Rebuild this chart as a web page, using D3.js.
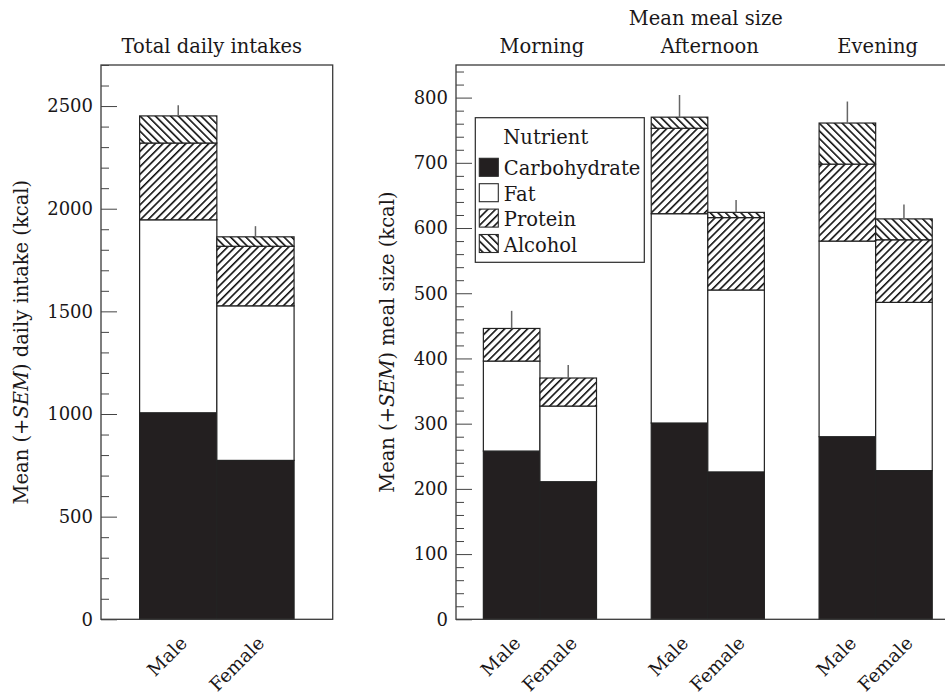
<!DOCTYPE html>
<html>
<head>
<meta charset="utf-8">
<script src="https://cdn.jsdelivr.net/npm/d3@7"></script>
<style>
  html, body { margin: 0; padding: 0; background: #fff; }
  svg { display: block; font-family: 'DejaVu Serif', serif; }
</style>
</head>
<body>
<script>
const sexes = ['Male', 'Female']
const meals = ['Morning', 'Afternoon', 'Evening']
const nutrients = ['Carbohydrate', 'Fat', 'Protein', 'Alcohol']

// total daily intake (kcal), Male / Female
const dailyCarb = [1006, 774]
const dailyFat = [940, 753]
const dailyProtein = [374, 290]
const dailyAlcohol = [132, 46]
const dailySem = [52, 52]

// mean meal size (kcal): Morning M/F, Afternoon M/F, Evening M/F
const mealCarb = [258, 211, 301, 226, 280, 228]
const mealFat = [138, 116, 321, 279, 300, 258]
const mealProtein = [50, 43, 131, 111, 118, 96]
const mealAlcohol = [0, 0, 17, 8, 63, 32]
const mealSem = [27, 20, 34, 19, 33, 22]

const dailyTicks = [0, 500, 1000, 1500, 2000, 2500]
const mealTicks = [0, 100, 200, 300, 400, 500, 600, 700, 800]

const width = 945
const height = 694
const ink = '#1a1718'
const plotTop = 65
const plotBottom = 619.3

const dailyRows = sexes.map((s, i) => ({
  sex: s, Carbohydrate: dailyCarb[i], Fat: dailyFat[i], Protein: dailyProtein[i], Alcohol: dailyAlcohol[i], sem: dailySem[i]
}))
const mealRows = []
meals.forEach((m, j) => sexes.forEach((s, k) => {
  const i = j * 2 + k
  mealRows.push({ meal: m, sex: s, Carbohydrate: mealCarb[i], Fat: mealFat[i], Protein: mealProtein[i], Alcohol: mealAlcohol[i], sem: mealSem[i] })
}))

const stack = d3.stack().keys(nutrients)

const svg = d3.select('body').append('svg').attr('width', width).attr('height', height)

// hatch patterns
const defs = svg.append('defs')
const hatch = (id, angle) => {
  defs.append('pattern')
    .attr('id', id)
    .attr('patternUnits', 'userSpaceOnUse')
    .attr('width', 5.4).attr('height', 5.4)
    .attr('patternTransform', `rotate(${angle})`)
    .call((p) => p.append('rect').attr('width', 5.4).attr('height', 5.4).attr('fill', '#fff'))
    .append('line')
    .attr('x1', 0.8).attr('y1', 0).attr('x2', 0.8).attr('y2', 5.4)
    .attr('stroke', '#000').attr('stroke-width', 1.5)
}
hatch('protein', 45)
hatch('alcohol', -45)

const fillOf = { Carbohydrate: '#231f20', Fat: '#fff', Protein: 'url(#protein)', Alcohol: 'url(#alcohol)' }

function yAxis(g, y, majors, minorStep, x0) {
  const [d0, d1] = y.domain()
  const minors = d3.range(d0, d1 + 0.001, minorStep).filter((v) => !majors.includes(v))
  g.append('g').attr('transform', `translate(${x0},0)`)
    .call(d3.axisRight(y).tickValues(minors).tickSize(8).tickFormat(''))
    .call((a) => a.select('.domain').remove())
    .call((a) => a.selectAll('line').attr('stroke', '#444'))
  g.append('g').attr('transform', `translate(${x0},0)`)
    .call(d3.axisRight(y).tickValues(majors).tickSize(16).tickFormat(d3.format('d')))
    .call((a) => a.select('.domain').remove())
    .call((a) => a.selectAll('line').attr('stroke', '#444'))
    .call((a) => a.selectAll('text')
      .attr('x', -8).attr('text-anchor', 'end')
      .attr('font-family', 'DejaVu Serif').attr('font-size', 18).attr('fill', ink))
}

function drawBars(g, rows, xOf, bw, y) {
  const series = stack(rows)
  g.append('g').selectAll('g')
    .data(series)
    .join('g')
    .attr('fill', (d) => fillOf[d.key])
    .selectAll('rect')
    .data((d) => d.filter((v) => v[1] > v[0]))
    .join('rect')
    .attr('x', (d) => xOf(d.data))
    .attr('y', (d) => y(d[1]))
    .attr('width', bw)
    .attr('height', (d) => y(d[0]) - y(d[1]))
    .attr('stroke', '#222')
    .attr('stroke-width', 1.2)
  const last = series[series.length - 1]
  g.append('g').selectAll('line')
    .data(last)
    .join('line')
    .attr('x1', (d) => xOf(d.data) + bw / 2)
    .attr('x2', (d) => xOf(d.data) + bw / 2)
    .attr('y1', (d) => y(d[1]))
    .attr('y2', (d) => y(d[1] + d.data.sem))
    .attr('stroke', '#666')
    .attr('stroke-width', 1.5)
}

function xLabels(g, rows, xOf, bw) {
  g.append('g').selectAll('text')
    .data(rows)
    .join('text')
    .attr('transform', (d) => `translate(${xOf(d) + bw / 2 + 10},${plotBottom + 25}) rotate(-45)`)
    .attr('text-anchor', 'end')
    .attr('font-size', 18.5)
    .attr('fill', ink)
    .text((d) => d.sex)
}

// ---- left panel: total daily intakes
const xL0 = 101, xL1 = 332.7
const yDaily = d3.scaleLinear().domain([0, 2700]).range([plotBottom, plotTop])
const xSex = d3.scaleBand().domain(sexes).range([xL0, xL1]).paddingInner(0).paddingOuter(0.5)

const left = svg.append('g')
drawBars(left, dailyRows, (d) => xSex(d.sex), xSex.bandwidth(), yDaily)
left.append('rect')
  .attr('x', xL0).attr('y', plotTop).attr('width', xL1 - xL0).attr('height', plotBottom - plotTop)
  .attr('fill', 'none').attr('stroke', '#3a3a3a').attr('stroke-width', 1.3)
yAxis(left, yDaily, dailyTicks, 100, xL0)
xLabels(left, dailyRows, (d) => xSex(d.sex), xSex.bandwidth())
left.append('text')
  .attr('x', (xL0 + xL1) / 2 - 5).attr('y', 53)
  .attr('text-anchor', 'middle').attr('font-size', 19.5).attr('fill', ink)
  .text('Total daily intakes')
left.append('text')
  .attr('transform', `translate(28,${(plotTop + plotBottom) / 2}) rotate(-90)`)
  .attr('text-anchor', 'middle').attr('font-size', 19.5).attr('fill', ink)
  .call((t) => {
    t.append('tspan').text('Mean (+')
    t.append('tspan').attr('font-style', 'italic').text('SEM')
    t.append('tspan').text(') daily intake (kcal)')
  })

// ---- right panel: mean meal size
const xR0 = 456, xR1 = 959.6
const yMeal = d3.scaleLinear().domain([0, 850]).range([plotBottom, plotTop])
const xMeal = d3.scaleBand().domain(meals).range([xR0, xR1]).paddingInner(0.326).paddingOuter(0.163)
const xSexIn = d3.scaleBand().domain(sexes).range([0, xMeal.bandwidth()])
const xm = (d) => xMeal(d.meal) + xSexIn(d.sex)

const right = svg.append('g')
drawBars(right, mealRows, xm, xSexIn.bandwidth(), yMeal)
right.append('rect')
  .attr('x', xR0).attr('y', plotTop).attr('width', xR1 - xR0).attr('height', plotBottom - plotTop)
  .attr('fill', 'none').attr('stroke', '#3a3a3a').attr('stroke-width', 1.3)
yAxis(right, yMeal, mealTicks, 20, xR0)
xLabels(right, mealRows, xm, xSexIn.bandwidth())
right.append('g').selectAll('text')
  .data(meals)
  .join('text')
  .attr('x', (d) => xMeal(d) + xMeal.bandwidth() / 2 + 2)
  .attr('y', 53)
  .attr('text-anchor', 'middle').attr('font-size', 19.5).attr('fill', ink)
  .text((d) => d)
right.append('text')
  .attr('x', xMeal('Afternoon') + xMeal.bandwidth() / 2 - 2).attr('y', 25)
  .attr('text-anchor', 'middle').attr('font-size', 19.5).attr('fill', ink)
  .text('Mean meal size')
right.append('text')
  .attr('transform', `translate(394,${(plotTop + plotBottom) / 2}) rotate(-90)`)
  .attr('text-anchor', 'middle').attr('font-size', 19.5).attr('fill', ink)
  .call((t) => {
    t.append('tspan').text('Mean (+')
    t.append('tspan').attr('font-style', 'italic').text('SEM')
    t.append('tspan').text(') meal size (kcal)')
  })

// ---- legend
const legend = svg.append('g').attr('transform', 'translate(475.3,117.7)')
legend.append('rect')
  .attr('width', 169).attr('height', 144.6)
  .attr('fill', '#fff').attr('stroke', '#2a2a2a').attr('stroke-width', 1.2)
legend.append('text')
  .attr('x', 28).attr('y', 26)
  .attr('font-size', 19.5).attr('fill', ink)
  .text('Nutrient')
const item = legend.selectAll('g.item')
  .data(nutrients)
  .join('g')
  .attr('class', 'item')
  .attr('transform', (d, i) => `translate(4,${40.6 + i * 25.4})`)
item.append('rect')
  .attr('width', 19).attr('height', 18)
  .attr('fill', (d) => fillOf[d])
  .attr('stroke', '#2a2a2a').attr('stroke-width', 1.1)
item.append('text')
  .attr('x', 24.5).attr('y', 17)
  .attr('font-size', 19.5).attr('fill', ink)
  .text((d) => d)
</script>
</body>
</html>
